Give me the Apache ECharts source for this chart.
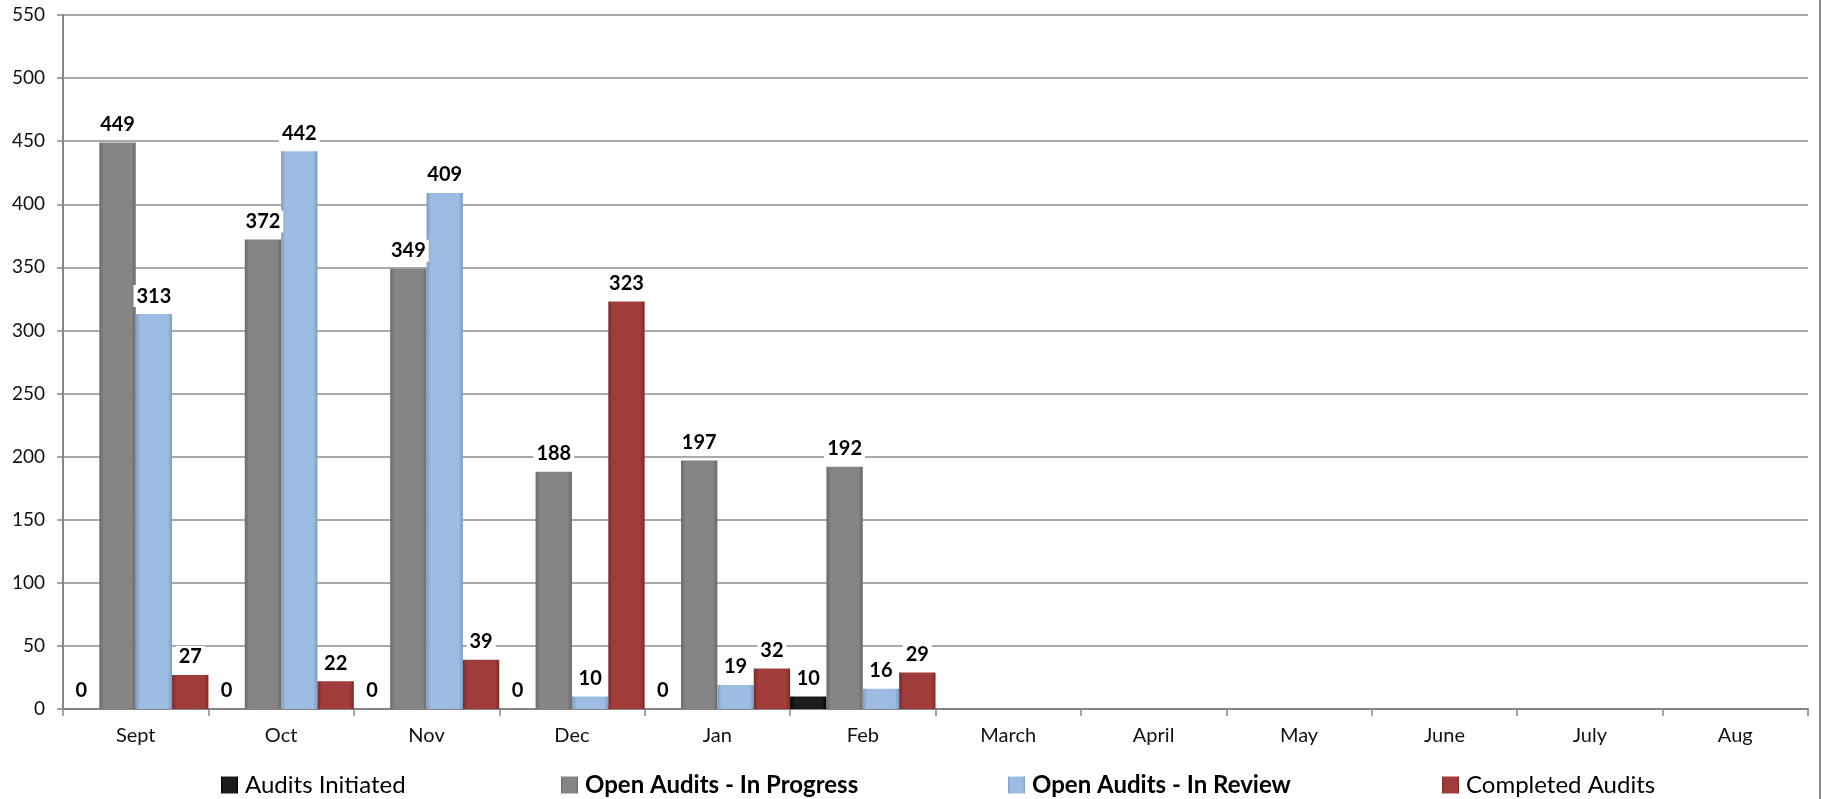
<!DOCTYPE html>
<html>
<head>
<meta charset="utf-8">
<script src="https://cdn.jsdelivr.net/npm/echarts@6/dist/echarts.min.js"></script>
<style>
html,body{margin:0;padding:0;background:#fff;}
#c{width:1822px;height:799px;}
</style>
</head>
<body>
<div id="c"></div>
<script>
const categories = ['Sept','Oct','Nov','Dec','Jan','Feb','March','April','May','June','July','Aug'];
const auditsInitiated = [0,0,0,0,0,10,null,null,null,null,null,null];
const inProgress = [449,372,349,188,197,192,null,null,null,null,null,null];
const inReview = [313,442,409,10,19,16,null,null,null,null,null,null];
const completed = [27,22,39,323,32,29,null,null,null,null,null,null];
const seriesNames = ['Audits Initiated','Open Audits - In Progress','Open Audits - In Review','Completed Audits'];
const yTicks = {min:0, max:550, interval:50};

const FONT = 'Lato';
function grad(edge, mid){
  return new echarts.graphic.LinearGradient(0,0,1,0,[
    {offset:0,color:edge},{offset:0.12,color:mid},{offset:0.88,color:mid},{offset:1,color:edge}
  ]);
}
const colors = [
  grad('#000000','#1c1c1c'),
  grad('#6a6a6a','#858585'),
  grad('#7f9cc2','#9dbce3'),
  grad('#7a2b29','#a03c3a')
];
const lbl = {
  show:true, position:'top', distance:7,
  fontFamily:FONT, fontWeight:'bold', fontSize:20, color:'#000',
  backgroundColor:'#fff', padding:[1,3]
};
function mk(i, data){
  return {
    name: seriesNames[i], type:'bar', data: data,
    barGap:'0%', barCategoryGap:'0%',
    itemStyle:{color:colors[i]},
    label: lbl,
    emphasis:{disabled:true}
  };
}
const legendLeft = [221, 561, 1008, 1442];
const legends = seriesNames.map((n,i)=>({
  data:[n], left:legendLeft[i], top:773, itemWidth:17, itemHeight:17, itemGap:0,
  icon:'rect', padding:0,
  textStyle:{fontFamily:FONT, fontSize:24, color:'#000', fontWeight:(i===1||i===2)?'bold':'normal', padding:[0,0,0,2]},
  selectedMode:false
}));

const chart = echarts.init(document.getElementById('c'));
chart.setOption({
  animation:false,
  backgroundColor:'#fff',
  grid:{left:63, right:14, top:15, bottom:90, containLabel:false},
  legend: legends,
  xAxis:{
    type:'category', data:categories, boundaryGap:true,
    axisLine:{show:true, lineStyle:{color:'#868686', width:2}},
    axisTick:{show:true, length:7, lineStyle:{color:'#868686', width:1.5}},
    axisLabel:{fontFamily:FONT, fontSize:20, color:'#111', margin:17}
  },
  yAxis:{
    type:'value', min:yTicks.min, max:yTicks.max, interval:yTicks.interval,
    axisLine:{show:true, lineStyle:{color:'#868686', width:2}},
    axisTick:{show:true, length:6, lineStyle:{color:'#868686', width:1.5}},
    axisLabel:{fontFamily:FONT, fontSize:19, color:'#111', margin:18},
    splitLine:{show:true, lineStyle:{color:'#8c8c8c', width:1.5}}
  },
  graphic:[{
    type:'line', shape:{x1:1820, y1:0, x2:1820, y2:799},
    style:{stroke:'#8c8c8c', lineWidth:2}, silent:true
  }],
  series:[mk(0,auditsInitiated), mk(1,inProgress), mk(2,inReview), mk(3,completed)]
});
</script>
</body>
</html>
